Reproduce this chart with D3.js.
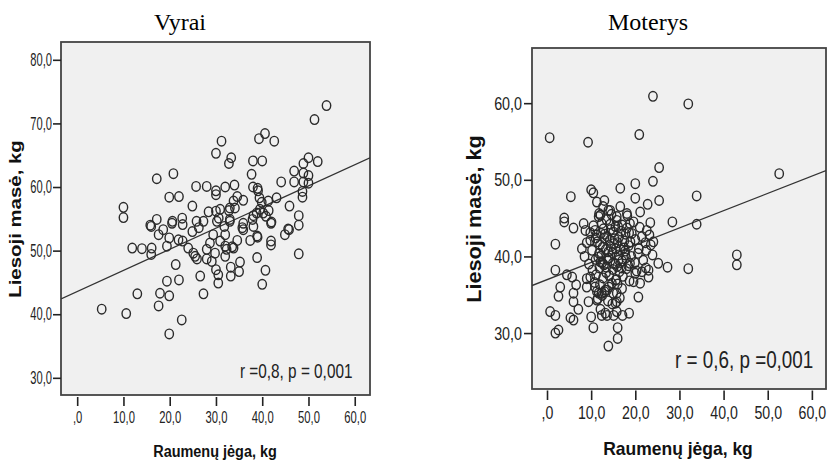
<!DOCTYPE html>
<html lang="lt">
<head>
  <meta charset="UTF-8">
  <title>Liesoji masė vs raumenų jėga</title>
  <script src="https://d3js.org/d3.v7.min.js"></script>
  <style>
    body { margin: 0; background: #fff; }
    svg { display: block; }
  </style>
</head>
<body>
  <script>
    // Men (Vyrai): muscle strength (kg) vs lean mass (kg)
    const menStrength = [53.9,51.3,40.6,39.3,42.6,31.2,30.0,33.3,32.8,38.0,40.0,50.0,52.0,46.9,48.9,48.9,50.0,46.9,48.9,50.0,
      48.7,48.7,44.1,43.1,45.9,47.9,45.6,37.7,38.0,39.0,39.4,39.9,41.3,41.4,38.8,40.2,42.0,37.9,35.9,34.6,
      33.8,34.1,32.8,34.0,32.0,30.0,30.0,28.0,25.7,24.9,28.4,30.0,30.9,30.6,20.8,17.2,19.9,22.0,22.7,20.6,
      10.0,10.0,17.2,15.8,27.3,35.9,16.0,18.6,17.6,20.5,22.8,24.9,26.3,30.2,31.8,33.0,35.7,38.1,41.9,44.9,
      45.8,47.9,41.9,41.9,37.4,38.9,34.6,33.5,32.0,32.0,32.3,30.9,29.4,28.7,28.0,29.8,28.0,29.1,25.9,25.1,
      24.0,22.8,21.9,19.9,19.4,16.1,16.0,14.0,11.9,21.3,19.4,22.0,26.6,30.0,30.5,30.5,33.2,33.2,35.2,35.0,
      38.9,40.7,40.0,47.9,13.0,17.9,17.6,19.9,27.3,5.3,10.6,22.6,19.9,25.8,25.5,39.1,33.0,39.5,40.8,38.1,
      33.0,35.9,39.0,33.8,32.0];
    const menLeanMass = [72.8,70.6,68.4,67.6,67.2,67.2,65.3,64.6,63.7,64.1,64.1,64.6,64.0,62.5,63.7,62.2,61.8,60.8,60.8,60.6,
      59.3,58.4,60.8,58.3,57.0,55.5,53.4,62.0,60.0,59.8,58.3,57.6,57.8,56.3,55.9,55.9,54.5,54.9,57.9,58.5,
      57.8,56.7,56.3,60.3,60.0,59.4,58.8,60.1,60.1,57.0,56.1,56.2,56.5,55.1,62.1,61.3,58.4,58.5,55.1,54.6,
      56.8,55.2,54.9,54.0,54.6,54.3,53.8,53.3,52.5,54.3,54.1,53.0,53.6,54.6,53.8,54.6,53.6,53.8,54.3,52.5,
      53.3,54.0,51.5,50.9,51.6,52.3,51.6,50.6,52.5,50.7,50.2,51.5,52.5,51.2,50.2,49.6,48.7,48.3,48.7,49.6,
      50.4,51.5,51.7,52.0,50.7,50.4,49.4,50.3,50.4,47.8,45.2,45.4,46.0,47.0,46.2,44.9,47.4,46.0,48.2,46.7,
      48.9,46.9,44.7,49.5,43.2,43.3,41.3,42.9,43.2,40.8,40.1,39.1,36.9,54.6,49.1,59.4,56.7,56.5,55.4,55.5,
      54.9,53.3,52.1,50.4,49.1];
    const menFit = [[-3.5, 42.4], [63.3, 64.6]];

    // Women (Moterys)
    const womenStrength = [24.0,32.0,0.6,9.3,20.9,25.4,24.0,20.0,20.0,25.4,22.8,33.9,52.6,16.6,5.4,10.0,10.5,11.3,13.0,12.7,
      13.9,16.6,18.1,21.1,28.4,33.9,3.9,3.9,12.1,23.4,
      43.0,43.0,32.0,27.3,25.2,23.9,24.1,23.2,1.9,1.9,7.9,4.5,3.0,2.6,5.7,6.6,6.0,6.0,7.1,0.7,
      1.9,5.3,6.0,1.9,2.6,10.0,10.5,13.9,16.0,16.0,15.1,17.1,18.6,13.2,12.1,20.7,21.1,19.6,23.0,23.0,
      9.0,9.0,9.4,11.3,12.4,13.6,15.8,15.8,
      6.0,8.3,8.7,11.7,14.3,9.8,10.9,12.4,13.6,15.5,15.8,22.6,18.8,15.8,
      9.8,10.9,11.7,11.3,13.2,14.7,15.5,15.8,12.4,13.6,
      20.0,22.4,21.5,17.7,18.8,16.2,
      10.5,11.2,12.0,12.8,13.5,14.2,15.0,15.6,16.3,17.0,17.8,18.5,19.2,20.0,20.8,21.5,22.3,10.2,11.0,11.8,
      12.5,13.3,14.0,14.8,15.5,16.2,17.0,17.7,18.4,19.1,19.9,20.6,9.5,10.3,11.1,11.9,12.7,13.4,14.1,14.9,
      15.7,16.4,17.2,18.0,18.7,12.0,13.0,14.0,15.0,16.0,17.0,11.5,12.5,13.8,14.8,16.5,9.0,9.8,11.8,13.0,
      14.6,16.8,18.2,19.6,21.0,20.3,21.8,22.5,23.5,8.5,10.8,18.9,14.5,16.0,12.2,13.6,
      11.4,12.3,13.1,14.4,15.2,16.1,17.4,18.1,11.6,12.9,13.9,15.3,16.6,17.5,12.6,14.3,15.9,17.9,11.0,13.4,
      14.9,16.9,18.6,12.1,15.6];
    const womenLeanMass = [60.9,59.9,55.5,54.9,55.9,51.6,49.8,49.5,47.6,47.3,46.8,47.9,50.8,48.9,47.8,48.7,48.3,47.1,47.3,46.5,
      46.0,46.5,45.6,45.8,44.5,44.2,45.0,44.5,45.4,44.4,
      40.2,38.9,38.4,38.6,39.1,40.2,41.9,42.8,41.6,38.2,41.0,37.6,36.0,34.8,37.3,36.3,35.2,34.1,33.1,32.8,
      32.3,32.0,31.7,30.0,30.4,32.1,30.7,28.3,29.3,30.7,32.3,32.3,32.6,32.6,33.1,34.7,36.5,36.7,38.2,37.3,
      37.1,36.0,34.1,35.4,35.2,35.6,35.2,34.1,
      43.7,44.3,43.4,45.2,46.0,42.1,43.4,44.3,42.6,43.9,45.2,43.4,44.3,44.7,
      37.3,36.0,35.2,34.3,35.6,36.5,33.9,32.8,32.3,32.3,
      37.8,38.5,38.0,40.2,39.1,39.5,
      44.0,42.8,41.5,43.6,44.8,42.1,43.2,41.0,42.5,44.1,42.9,41.4,43.0,42.2,41.0,42.6,41.8,40.8,39.6,40.4,
      39.2,40.9,39.8,40.5,39.0,40.2,39.4,40.7,38.8,40.0,39.2,40.4,39.0,38.2,37.6,38.5,37.2,38.6,37.5,38.3,
      37.0,38.0,37.4,38.4,36.8,36.3,35.4,36.0,35.2,36.4,35.8,34.5,34.9,34.2,33.8,34.6,41.8,43.1,45.6,42.4,
      45.5,43.3,45.3,44.5,43.8,38.1,39.5,40.8,41.5,40.0,36.6,41.9,41.3,41.8,43.0,39.6,
      41.9,40.1,42.9,43.5,41.7,43.9,41.1,43.7,39.9,38.9,40.6,42.3,40.9,42.0,41.2,44.2,38.7,39.8,42.4,37.9,
      39.1,38.5,43.1,39.3,36.9];
    const womenFit = [[-3.4, 36.2], [63.2, 51.2]];

    const xTicks = [0, 10, 20, 30, 40, 50, 60];
    const menYTicks = [30, 40, 50, 60, 70, 80];
    const womenYTicks = [30, 40, 50, 60];
    const titles = ["Vyrai", "Moterys"];
    const notes = ["r =0,8, p = 0,001", "r = 0,6, p =0,001"];
    const xTitle = "Raumenų jėga, kg";
    const yTitle = "Liesoji masė, kg";

    const SANS = "'Liberation Sans', Arial, sans-serif";
    const SERIF = "'Liberation Serif', 'Times New Roman', serif";
    const fmt = d => d === 0 ? ",0" : d.toFixed(1).replace(".", ",");

    const svg = d3.select("body").append("svg")
      .attr("width", 827).attr("height", 462);

    const panels = [
      { title: titles[0], titleX: 180, box: [61, 42, 370, 395], xDom: [-3.5, 63.3], yDom: [27.3, 82.8],
        yTicks: menYTicks, xs: menStrength, ys: menLeanMass, fit: menFit,
        note: notes[0], noteX: 240, noteY: 378, noteSize: 21, noteSx: 0.73,
        yLab: { size: 17.7, sx: 0.63, len: 8, pad: 1 }, xLab: { size: 16.3, sx: 0.69, y: 397, len: 9, pad: 5 },
        xT: { x: 215, y: 457, size: 17, sx: 0.85 }, yT: { x: 20.5, y: 219, size: 20.4, sy: 0.85 } },
      { title: titles[1], titleX: 648, box: [532, 48, 826, 389], xDom: [-3.4, 63.2], yDom: [22.7, 67.2],
        yTicks: womenYTicks, xs: womenStrength, ys: womenLeanMass, fit: womenFit,
        note: notes[1], noteX: 675, noteY: 368, noteSize: 23, noteSx: 0.82,
        yLab: { size: 18.6, sx: 0.77, len: 8, pad: 2 }, xLab: { size: 17.7, sx: 0.8, y: 390.5, len: 9.5, pad: 6 },
        xT: { x: 678, y: 455, size: 18.6, sx: 0.94 }, yT: { x: 481, y: 219, size: 21.7, sy: 0.96 } }
    ];

    panels.forEach(p => {
      const [x0, y0, x1, y1] = p.box;
      const x = d3.scaleLinear().domain(p.xDom).range([x0, x1]);
      const y = d3.scaleLinear().domain(p.yDom).range([y1, y0]);
      const g = svg.append("g");

      // title
      g.append("text")
        .attr("x", p.titleX).attr("y", 30)
        .attr("text-anchor", "middle")
        .style("font-family", SERIF).style("font-size", "24px")
        .text(p.title);

      // plot box
      g.append("rect")
        .attr("x", x0).attr("y", y0)
        .attr("width", x1 - x0).attr("height", y1 - y0)
        .attr("fill", "#f0f0f0")
        .attr("stroke", "#444").attr("stroke-width", 1.8);

      const clipId = "clip" + p.title;
      svg.append("clipPath").attr("id", clipId)
        .append("rect").attr("x", x0).attr("y", y0).attr("width", x1 - x0).attr("height", y1 - y0);

      // fit line
      g.append("line")
        .attr("clip-path", `url(#${clipId})`)
        .attr("x1", x(p.fit[0][0])).attr("y1", y(p.fit[0][1]))
        .attr("x2", x(p.fit[1][0])).attr("y2", y(p.fit[1][1]))
        .attr("stroke", "#333").attr("stroke-width", 1.3);

      // points
      g.append("g").selectAll("ellipse")
        .data(p.xs.map((v, i) => [v, p.ys[i]]))
        .join("ellipse")
        .attr("cx", d => x(d[0])).attr("cy", d => y(d[1]))
        .attr("rx", 4.2).attr("ry", 4.8)
        .attr("fill", "none")
        .attr("stroke", "#2a2a2a").attr("stroke-width", 1.4);

      // y axis
      const ya = g.append("g")
        .attr("transform", `translate(${x0},0)`)
        .call(d3.axisLeft(y).tickValues(p.yTicks).tickFormat(fmt)
          .tickSize(p.yLab.len).tickPadding(p.yLab.pad));
      ya.select(".domain").remove();
      ya.attr("font-family", SANS).attr("font-size", p.yLab.size).attr("color", "#222");
      ya.selectAll("line").attr("stroke-width", 1.6);
      ya.selectAll("text")
        .attr("x", 0)
        .attr("transform", `translate(${-(p.yLab.len + p.yLab.pad)},0) scale(${p.yLab.sx},1)`);

      // x axis
      const xa = g.append("g")
        .attr("transform", `translate(0,${p.xLab.y})`)
        .call(d3.axisBottom(x).tickValues(xTicks).tickFormat(fmt)
          .tickSize(p.xLab.len).tickPadding(p.xLab.pad));
      xa.select(".domain").remove();
      xa.attr("font-family", SANS).attr("font-size", p.xLab.size).attr("color", "#222");
      xa.selectAll("line").attr("stroke-width", 1.6);
      xa.selectAll("text").attr("transform", `scale(${p.xLab.sx},1)`);

      // correlation note
      g.append("text")
        .attr("transform", `translate(${p.noteX},${p.noteY}) scale(${p.noteSx},1)`)
        .style("font-family", SANS).style("font-size", p.noteSize + "px")
        .attr("fill", "#222")
        .text(p.note);

      // axis titles
      g.append("text")
        .attr("transform", `translate(${p.xT.x},${p.xT.y}) scale(${p.xT.sx},1)`)
        .attr("text-anchor", "middle")
        .style("font-family", SANS).style("font-weight", "bold").style("font-size", p.xT.size + "px")
        .attr("fill", "#111")
        .text(xTitle);

      g.append("text")
        .attr("transform", `translate(${p.yT.x},${p.yT.y}) rotate(-90) scale(1,${p.yT.sy})`)
        .attr("text-anchor", "middle")
        .style("font-family", SANS).style("font-weight", "bold").style("font-size", p.yT.size + "px")
        .attr("fill", "#111")
        .text(yTitle);
    });
  </script>
</body>
</html>
